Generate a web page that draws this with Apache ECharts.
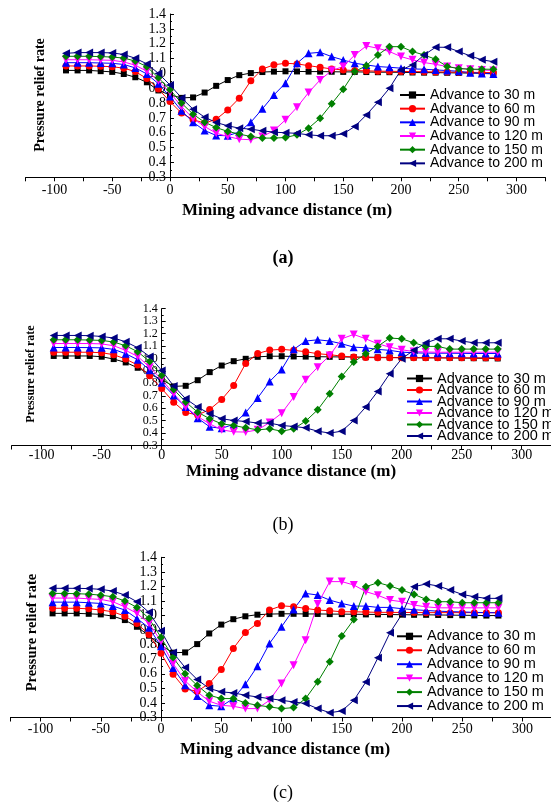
<!DOCTYPE html>
<html>
<head>
<meta charset="utf-8">
<title>Pressure relief rate vs mining advance distance</title>
<script src="https://cdn.jsdelivr.net/npm/echarts@6/dist/echarts.min.js"></script>
<style>
html, body { margin: 0; padding: 0; background: #fff; }
#chart { width: 551px; height: 802px; }
</style>
</head>
<body>
<div id="chart"></div>
<script>
// measuring points along the panel (m)
const distance = [-90, -80, -70, -60, -50, -40, -30, -20, -10, 0, 10, 20, 30, 40, 50, 60, 70, 80, 90,
  100, 110, 120, 130, 140, 150, 160, 170, 180, 190, 200, 210, 220, 230, 240, 250, 260, 270, 280]
const seriesNames = ['Advance to 30 m', 'Advance to 60 m', 'Advance to 90 m', 'Advance to 120 m', 'Advance to 150 m', 'Advance to 200 m']
const xTickLabels = [-100, -50, 0, 50, 100, 150, 200, 250, 300]
const yTickLabels = [0.3, 0.4, 0.5, 0.6, 0.7, 0.8, 0.9, 1.0, 1.1, 1.2, 1.3, 1.4]

// (a)
const a30 = [1.02, 1.02, 1.02, 1.015, 1.01, 0.996, 0.974, 0.94, 0.885, 0.855, 0.835, 0.838, 0.871, 0.916, 0.955, 0.988, 1.002, 1.009, 1.012,
  1.014, 1.013, 1.012, 1.012, 1.011, 1.01, 1.01, 1.009, 1.008, 1.008, 1.007, 1.006, 1.005, 1.005, 1.004, 1.003, 1.002, 1.001, 1.0]
const a60 = [1.05, 1.05, 1.05, 1.048, 1.045, 1.035, 1.012, 0.965, 0.895, 0.81, 0.733, 0.688, 0.665, 0.691, 0.754, 0.833, 0.95, 1.029, 1.058,
  1.068, 1.064, 1.052, 1.041, 1.03, 1.023, 1.019, 1.017, 1.015, 1.014, 1.013, 1.012, 1.011, 1.01, 1.009, 1.008, 1.007, 1.006, 1.005]
const a90 = [1.072, 1.072, 1.072, 1.07, 1.068, 1.06, 1.037, 0.996, 0.93, 0.844, 0.748, 0.671, 0.615, 0.582, 0.58, 0.605, 0.671, 0.761, 0.855,
  0.934, 1.068, 1.135, 1.142, 1.113, 1.09, 1.068, 1.057, 1.046, 1.041, 1.035, 1.03, 1.028, 1.023, 1.019, 1.014, 1.005, 1.0, 0.996]
const a120 = [1.092, 1.092, 1.092, 1.09, 1.088, 1.077, 1.055, 1.014, 0.95, 0.871, 0.777, 0.696, 0.642, 0.597, 0.575, 0.557, 0.553, 0.575, 0.615,
  0.687, 0.772, 0.871, 0.956, 1.019, 1.046, 1.124, 1.185, 1.169, 1.147, 1.113, 1.091, 1.073, 1.061, 1.046, 1.035, 1.028, 1.023, 1.019]
const a150 = [1.115, 1.115, 1.115, 1.113, 1.11, 1.103, 1.083, 1.045, 0.97, 0.89, 0.8, 0.725, 0.671, 0.635, 0.609, 0.591, 0.575, 0.564, 0.564,
  0.568, 0.586, 0.631, 0.698, 0.795, 0.893, 1.012, 1.052, 1.124, 1.18, 1.18, 1.147, 1.124, 1.095, 1.046, 1.032, 1.028, 1.028, 1.028]
const a200 = [1.135, 1.14, 1.14, 1.14, 1.138, 1.127, 1.102, 1.064, 1.0, 0.922, 0.835, 0.759, 0.705, 0.669, 0.647, 0.631, 0.624, 0.613, 0.604,
  0.6, 0.596, 0.586, 0.58, 0.58, 0.593, 0.642, 0.72, 0.806, 0.9, 1.023, 1.057, 1.124, 1.176, 1.176, 1.147, 1.118, 1.091, 1.079]

// (b)
const b30 = [1.02, 1.02, 1.02, 1.02, 1.014, 0.995, 0.968, 0.925, 0.875, 0.83, 0.775, 0.78, 0.825, 0.89, 0.943, 0.978, 0.997, 1.013, 1.018,
  1.018, 1.016, 1.015, 1.014, 1.013, 1.012, 1.011, 1.01, 1.009, 1.008, 1.007, 1.006, 1.005, 1.005, 1.004, 1.003, 1.002, 1.001, 1.0]
const b60 = [1.05, 1.05, 1.05, 1.05, 1.046, 1.03, 0.995, 0.947, 0.86, 0.758, 0.648, 0.566, 0.545, 0.59, 0.67, 0.783, 0.96, 1.04, 1.067,
  1.073, 1.065, 1.054, 1.038, 1.03, 1.019, 1.011, 1.007, 1.006, 1.006, 1.005, 1.005, 1.005, 1.005, 1.005, 1.005, 1.005, 1.005, 1.005]
const b90 = [1.088, 1.088, 1.088, 1.087, 1.085, 1.073, 1.038, 0.99, 0.906, 0.804, 0.702, 0.61, 0.52, 0.45, 0.438, 0.47, 0.565, 0.682, 0.815,
  0.912, 1.073, 1.14, 1.15, 1.14, 1.118, 1.091, 1.086, 1.073, 1.065, 1.051, 1.045, 1.043, 1.042, 1.042, 1.041, 1.04, 1.04, 1.04]
const b120 = [1.12, 1.12, 1.12, 1.12, 1.117, 1.102, 1.065, 1.016, 0.93, 0.83, 0.716, 0.609, 0.533, 0.474, 0.426, 0.41, 0.408, 0.426, 0.485,
  0.56, 0.689, 0.828, 0.93, 1.024, 1.158, 1.193, 1.158, 1.118, 1.091, 1.07, 1.055, 1.052, 1.05, 1.05, 1.05, 1.05, 1.05, 1.05]
const b150 = [1.15, 1.15, 1.15, 1.148, 1.145, 1.132, 1.102, 1.054, 0.975, 0.863, 0.751, 0.649, 0.568, 0.515, 0.474, 0.461, 0.442, 0.426, 0.434,
  0.415, 0.434, 0.496, 0.587, 0.716, 0.855, 0.971, 1.038, 1.097, 1.164, 1.158, 1.126, 1.097, 1.097, 1.075, 1.075, 1.075, 1.075, 1.075]
const b200 = [1.185, 1.185, 1.185, 1.183, 1.177, 1.164, 1.134, 1.086, 1.015, 0.904, 0.778, 0.676, 0.609, 0.555, 0.515, 0.501, 0.493, 0.48, 0.48,
  0.461, 0.453, 0.442, 0.415, 0.4, 0.415, 0.501, 0.609, 0.735, 0.877, 0.998, 1.065, 1.124, 1.158, 1.158, 1.14, 1.126, 1.126, 1.126]

// (c)
const c30 = [1.015, 1.015, 1.015, 1.012, 1.008, 0.996, 0.969, 0.923, 0.862, 0.795, 0.745, 0.747, 0.804, 0.877, 0.938, 0.975, 0.995, 1.006, 1.01,
  1.012, 1.012, 1.011, 1.011, 1.01, 1.01, 1.009, 1.008, 1.008, 1.007, 1.006, 1.005, 1.005, 1.004, 1.003, 1.002, 1.001, 1.0, 1.0]
const c60 = [1.05, 1.05, 1.05, 1.046, 1.038, 1.026, 0.996, 0.946, 0.87, 0.742, 0.597, 0.496, 0.48, 0.533, 0.629, 0.774, 0.884, 0.946, 1.038,
  1.067, 1.061, 1.049, 1.038, 1.033, 1.026, 1.026, 1.024, 1.022, 1.022, 1.021, 1.021, 1.02, 1.02, 1.02, 1.02, 1.02, 1.02, 1.02]
const c90 = [1.092, 1.092, 1.092, 1.088, 1.083, 1.065, 1.038, 0.98, 0.916, 0.79, 0.64, 0.522, 0.448, 0.384, 0.377, 0.43, 0.528, 0.652, 0.808,
  0.923, 1.042, 1.152, 1.141, 1.106, 1.083, 1.065, 1.065, 1.056, 1.056, 1.047, 1.04, 1.035, 1.03, 1.027, 1.025, 1.022, 1.02, 1.019]
const c120 = [1.12, 1.12, 1.12, 1.115, 1.111, 1.095, 1.06, 1.015, 0.946, 0.824, 0.67, 0.551, 0.476, 0.412, 0.384, 0.377, 0.361, 0.361, 0.418,
  0.533, 0.659, 0.831, 1.079, 1.233, 1.233, 1.21, 1.164, 1.139, 1.106, 1.095, 1.072, 1.06, 1.053, 1.053, 1.053, 1.053, 1.053, 1.053]
const c150 = [1.152, 1.152, 1.15, 1.147, 1.14, 1.129, 1.1, 1.056, 0.98, 0.85, 0.712, 0.6, 0.52, 0.453, 0.43, 0.43, 0.4, 0.384, 0.373,
  0.361, 0.368, 0.43, 0.545, 0.682, 0.859, 0.973, 1.198, 1.226, 1.203, 1.175, 1.145, 1.111, 1.095, 1.095, 1.088, 1.088, 1.088, 1.088]
const c200 = [1.187, 1.187, 1.187, 1.185, 1.18, 1.168, 1.141, 1.095, 1.022, 0.896, 0.746, 0.643, 0.561, 0.499, 0.476, 0.469, 0.453, 0.441, 0.43,
  0.418, 0.407, 0.396, 0.361, 0.333, 0.345, 0.418, 0.544, 0.71, 0.882, 1.01, 1.198, 1.217, 1.203, 1.175, 1.145, 1.129, 1.118, 1.118]

const panelData = [
  [a30, a60, a90, a120, a150, a200],
  [b30, b60, b90, b120, b150, b200],
  [c30, c60, c90, c120, c150, c200],
]

const colors = ['#000000', '#ff0000', '#0000ff', '#ff00ff', '#008000', '#000080']
const symbols = ['rect', 'circle', 'triangle', 'path://M0,0L10,0L5,10Z', 'diamond', 'path://M0,5L10,0L10,10Z']
const symbolSizes = [6, 7, 8, 8, 8, 8]

const serif = '"Liberation Serif", "Times New Roman", serif'
const sans = '"Liberation Sans", Arial, sans-serif'

const xMin = -125
const xMax = 325

// where each sub-figure sits on the page
const layouts = [
  { grid: { left: 25.6, top: 14, width: 519.75, height: 163.3 }, labelMargin: 6, yLabelSize: 14,
    legend: { left: 399, top: 88, gap: -0.33, fontSize: 14 },
    caption: { text: '(a)', x: 283, y: 258, weight: 'bold' },
    xTitle: { x: 287, y: 211 }, yTitle: { x: 40.6, y: 95, size: 14 } },
  { grid: { left: 11.7, top: 308.7, width: 540, height: 136.8 }, labelMargin: 3, yLabelSize: 12,
    legend: { left: 406, top: 371, gap: -3.5, fontSize: 14.5 },
    caption: { text: '(b)', x: 283, y: 525, weight: 'normal' },
    xTitle: { x: 291, y: 472 }, yTitle: { x: 31, y: 374, size: 12 } },
  { grid: { left: 10.4, top: 557.3, width: 542.25, height: 160.2 }, labelMargin: 5, yLabelSize: 14,
    legend: { left: 396, top: 628.8, gap: -1.05, fontSize: 14.5 },
    caption: { text: '(c)', x: 283, y: 793, weight: 'normal' },
    xTitle: { x: 285, y: 750 }, yTitle: { x: 31.8, y: 632.5, size: 14.5 } },
]

const chart = echarts.init(document.getElementById('chart'))

const series = []
panelData.forEach((curves, i) => {
  curves.forEach((vals, k) => {
    series.push({
      type: 'line',
      name: seriesNames[k],
      xAxisIndex: i,
      yAxisIndex: i,
      data: distance.map((d, j) => [d, vals[j]]),
      symbol: symbols[k],
      symbolSize: symbolSizes[k],
      showAllSymbol: true,
      color: colors[k],
      lineStyle: { color: colors[k], width: 1 },
      itemStyle: { color: colors[k], borderWidth: 0 },
      emphasis: { disabled: true },
    })
  })
})

const text = (t, x, y, font, rotation) => ({
  type: 'text', x, y, rotation: rotation || 0,
  style: { text: t, font, fill: '#000', align: 'center', verticalAlign: 'middle', textAlign: 'center', textVerticalAlign: 'middle' },
})

const graphic = []
layouts.forEach(l => {
  graphic.push(text(l.caption.text, l.caption.x, l.caption.y, `${l.caption.weight} 18px ${serif}`))
  graphic.push(text('Mining advance distance (m)', l.xTitle.x, l.xTitle.y, `bold 17px ${serif}`))
  graphic.push(text('Pressure relief rate', l.yTitle.x, l.yTitle.y, `bold ${l.yTitle.size}px ${serif}`, Math.PI / 2))
})

chart.setOption({
  animation: false,
  backgroundColor: '#ffffff',
  grid: layouts.map(l => ({ ...l.grid, containLabel: false, outerBoundsMode: 'none' })),
  xAxis: layouts.map((l, i) => ({
    type: 'value',
    gridIndex: i,
    min: xMin,
    max: xMax,
    interval: 25,
    splitLine: { show: false },
    axisLine: { lineStyle: { color: '#000', width: 1 } },
    axisTick: { length: 4, lineStyle: { color: '#000' } },
    axisLabel: {
      color: '#000', fontFamily: serif, fontSize: 14, margin: l.labelMargin,
      showMinLabel: true, showMaxLabel: true,
      formatter: v => (xTickLabels.includes(v) ? String(v) : ''),
    },
  })),
  // the vertical axis stands at distance 0, so shift it in from the grid edge
  yAxis: layouts.map((l, i) => ({
    type: 'value',
    gridIndex: i,
    min: yTickLabels[0],
    max: yTickLabels[yTickLabels.length - 1],
    interval: 0.1,
    offset: -(0 - xMin) / (xMax - xMin) * l.grid.width,
    splitLine: { show: false },
    axisLine: { onZero: false, lineStyle: { color: '#000', width: 1 } },
    axisTick: { inside: true, length: 4, lineStyle: { color: '#000' } },
    minorTick: { show: true, splitNumber: 2, length: 2, lineStyle: { color: '#000' } },
    axisLabel: {
      color: '#000', fontFamily: serif, fontSize: l.yLabelSize, margin: 4,
      hideOverlap: false,
      formatter: v => v.toFixed(1),
    },
  })),
  legend: layouts.map(l => ({
    orient: 'vertical',
    left: l.legend.left,
    top: l.legend.top,
    padding: 0,
    itemGap: l.legend.gap,
    itemWidth: 25,
    itemHeight: 9,
    selectedMode: false,
    data: seriesNames,
    textStyle: { color: '#000', fontFamily: sans, fontSize: l.legend.fontSize },
  })),
  graphic,
  series,
})
</script>
</body>
</html>
